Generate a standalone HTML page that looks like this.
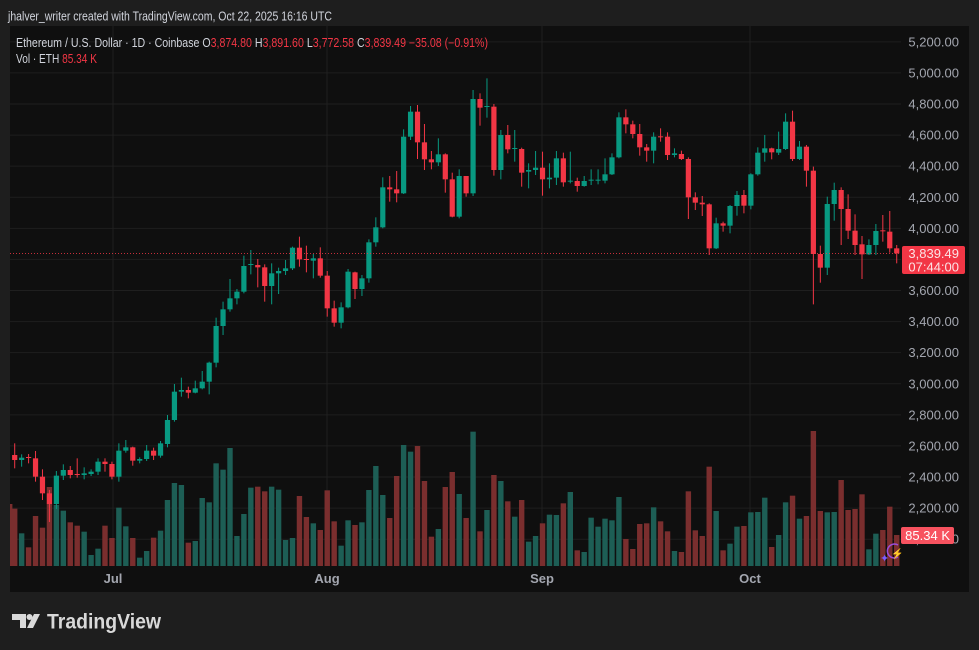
<!DOCTYPE html>
<html><head><meta charset="utf-8">
<style>
html,body{margin:0;padding:0;background:#1e1e1e;width:979px;height:650px;overflow:hidden;font-family:"Liberation Sans",sans-serif}
svg{position:absolute;left:0;top:0}
</style></head><body>
<svg id="s" width="979" height="650" xmlns="http://www.w3.org/2000/svg" font-family="Liberation Sans, sans-serif"></svg>
<script>
var c=[
['r',1125,1140,1090,1165],['g',1133,1140,1123,1160],['r',1131,1133,1122,1150],['r',1135,1190,1113,1205],['r',1190,1240,1168,1260],
['r',1240,1272,1230,1326],['g',1187,1272,1173,1287],['g',1170,1187,1153,1200],['r',1170,1185,1158,1195],['r',1182,1184,1135,1193],
['g',1180,1185,1162,1198],['g',1175,1182,1168,1188],['g',1145,1175,1135,1185],['r',1145,1152,1135,1175],['r',1152,1190,1145,1198],
['g',1112,1190,1090,1205],['g',1102,1112,1080,1118],['r',1102,1142,1100,1157],['g',1137,1142,1132,1150],['g',1112,1137,1095,1143],
['r',1112,1127,1103,1140],['g',1090,1127,1083,1133],['g',1020,1092,1005,1102],['g',935,1020,912,1025],['g',930,935,893,950],
['r',930,938,920,955],['g',925,938,902,940],['g',905,925,873,928],['g',848,905,845,943],['g',738,848,713,862],
['g',688,738,665,765],['g',655,688,597,695],['g',635,655,627,673],['g',558,635,527,640],['g',552,555,510,583],
['r',555,562,537,622],['r',562,618,553,665],['g',580,618,550,673],['g',573,580,563,642],['g',565,573,540,585],
['g',503,565,500,570],['r',503,538,470,560],['r',537,539,497,577],['g',535,542,522,595],['r',535,587,502,593],
['r',587,685,573,710],['r',685,728,662,740],['g',682,728,667,745],['g',575,682,567,685],['r',577,627,575,657],
['g',595,627,585,648],['g',487,595,478,608],['g',442,487,412,500],['g',322,442,292,445],['r',322,328,288,365],
['r',328,340,273,367],['g',170,340,148,342],['g',95,170,78,180],['r',95,187,75,237],['r',187,238,132,270],
['r',238,247,213,268],['g',223,247,175,258],['r',223,298,220,338],['r',298,410,278,412],['g',288,410,268,415],
['r',288,340,288,350],['g',57,340,30,348],
['r',57,83,40,137],['g',78,80,-5,113],['r',80,270,72,287],['g',165,270,150,298],['r',165,208,135,220],
['g',204,206,150,245],['r',207,278,203,320],['g',270,275,250,325],['g',263,270,213,285],['r',263,298,215,347],
['g',293,298,250,325],['g',235,293,213,315],['r',235,307,218,320],['g',302,304,215,310],['r',303,318,293,335],
['g',303,318,288,320],['g',299,301,268,315],['g',299,301,268,313],['g',283,302,235,310],['g',232,283,220,285],
['g',112,232,97,235],['r',112,133,88,160],['r',133,162,122,175],['r',162,202,132,227],['r',202,212,192,245],
['g',170,212,157,250],['r',169,171,145,185],['r',170,225,157,240],['g',220,225,205,232],['r',222,237,212,240],
['r',237,352,232,417],['r',352,368,337,390],['r',368,373,348,408],['r',373,505,370,525],['g',430,505,413,507],
['r',430,437,425,455],['g',378,437,375,460],['g',345,378,333,407],['r',345,377,330,400],['g',283,377,280,388],
['g',218,283,202,287],['g',205,218,165,245],['r',205,217,203,238],['g',207,218,155,225],['g',125,207,100,210],
['r',125,237,92,243],['g',200,237,183,240],['r',200,272,195,320],['r',272,522,260,673],['r',522,563,497,608],
['g',372,563,350,585],['g',330,372,308,422],['r',330,387,322,495],['r',387,452,343,477],['r',452,495,403,525],
['r',493,523,468,597],['g',495,523,478,525],['g',453,495,432,525],['r',451,453,405,485],['r',455,505,393,518],
['r',505,520,495,550]];
var v1=[251,325,367,273,308,186,240,257,292,302,320,390,371,302,339,248,304,339,398,378,338,317,225,174,180,353,348,219,232,115,134,69,333,267,188,185,199,185,194,345,339,213,276,295,315,196,289,362,286,300,292,195,123,210,279,153,60,80,63,168,335,312,186,141,207];
var v2=[279,20,319,255,150,168,229,275,225,350,333,295,269,270,235,201,376,381,278,305,281,286,216,342,372,297,295,247,289,319,378,381,199,316,333,125,258,376,356,305,303,262,261,218,366,330,232,212,281,273,18,258,262,261,165,255,252,208,373,326,315,245,330];
var s=document.getElementById('s'),h='';
function Y(p){return 104+(4800-p)/6.434}
h+='<text x="8" y="20.5" font-size="13" fill="#d1d4dc" textLength="324" lengthAdjust="spacingAndGlyphs">jhalver_writer created with TradingView.com, Oct 22, 2025 16:16 UTC</text>';
h+='<rect x="10" y="26" width="959" height="566" fill="#0f0f0f"/>';
h+='<clipPath id="cp"><rect x="10" y="26" width="891" height="540"/></clipPath>';
for(var p=5200;p>=2000;p-=200){var y=Y(p);h+='<line x1="10" x2="901" y1="'+y+'" y2="'+y+'" stroke="#1f1f1f" stroke-width="1"/>';
 h+='<text x="959" y="'+(y+4.5)+'" fill="#a3a6af" font-size="13" text-anchor="end">'+p.toLocaleString('en-US')+'.00</text>';}
[[113,'Jul'],[327,'Aug'],[542,'Sep'],[750,'Oct']].forEach(function(a){h+='<line x1="'+a[0]+'" x2="'+a[0]+'" y1="26" y2="566" stroke="#1f1f1f"/>';
 h+='<text x="'+a[0]+'" y="583" fill="#a3a6af" font-size="13" text-anchor="middle" font-weight="bold">'+a[1]+'</text>';});
h+='<g clip-path="url(#cp)">';
var vols=v1.concat(v2);
h+='<rect x="7" y="'+(425+237/3)+'" width="5.4" height="'+(566-425-237/3)+'" fill="#7a2e2e"/>';
for(var i=0;i<128;i++){var x=14.7+i*6.945,t=425+vols[i]/3;var col=c[i][0]=='g'?'#1d5e55':'#7a2e2e';
 h+='<rect x="'+(x-2.7)+'" y="'+t+'" width="5.4" height="'+(566-t)+'" fill="'+col+'"/>';}
for(var i=0;i<128;i++){var d=c[i],x=14.7+i*6.945,col=d[0]=='g'?'#089981':'#f23645';
 var bt=80+d[1]/3,bb=80+d[2]/3,wt=80+d[3]/3,wb=80+d[4]/3;if(bb-bt<1)bb=bt+1;
 h+='<line x1="'+x+'" x2="'+x+'" y1="'+wt+'" y2="'+wb+'" stroke="'+col+'" stroke-width="1"/>';
 h+='<rect x="'+(x-2.6)+'" y="'+bt+'" width="5.2" height="'+(bb-bt)+'" fill="'+col+'"/>';}
h+='</g>';
h+='<line x1="10" x2="901" y1="253.5" y2="253.5" stroke="#f23645" stroke-width="1" stroke-dasharray="1,2" opacity="0.8"/>';
h+='<rect x="902" y="246" width="63" height="28" rx="2" fill="#f23645"/>';
h+='<text x="959" y="258" fill="#fbe3e5" font-size="13" text-anchor="end">3,839.49</text>';
h+='<text x="959" y="271.5" fill="#fbe3e5" font-size="13" text-anchor="end">07:44:00</text>';
h+='<rect x="901" y="527" width="53" height="17" rx="2" fill="#f7525f"/>';
h+='<text x="950" y="540" fill="#fff" font-size="13" text-anchor="end">85.34 K</text>';
h+='<path d="M898 545 a7 7 0 1 0 0 12" stroke="#9c4dd8" stroke-width="1.5" fill="none"/><text x="891" y="557" fill="#9c4dd8" font-size="10">⚡</text><text x="880" y="562" fill="#7a5cff" font-size="11">✦</text>';
h+='<text x="16" y="47" font-size="12.5" fill="#d1d4dc" textLength="472" lengthAdjust="spacingAndGlyphs">Ethereum / U.S. Dollar · 1D · Coinbase  O<tspan fill="#f23645">3,874.80</tspan>  H<tspan fill="#f23645">3,891.60</tspan>  L<tspan fill="#f23645">3,772.58</tspan>  C<tspan fill="#f23645">3,839.49  −35.08 (−0.91%)</tspan></text>';
h+='<text x="16" y="63" font-size="12.5" fill="#d1d4dc" textLength="81" lengthAdjust="spacingAndGlyphs">Vol · ETH  <tspan fill="#f23645">85.34 K</tspan></text>';
h+='<path d="M12 614 h14 v14 h-6 v-8 h-8z" fill="#d9d9d9"/><circle cx="29.5" cy="617" r="3" fill="#d9d9d9"/><path d="M34 614 h6 l-7 14 h-6z" fill="#d9d9d9"/>';
h+='<text x="47" y="628.5" font-size="21" font-weight="bold" fill="#d9d9d9" textLength="114" lengthAdjust="spacingAndGlyphs">TradingView</text>';
s.innerHTML=h;
</script>
</body></html>
